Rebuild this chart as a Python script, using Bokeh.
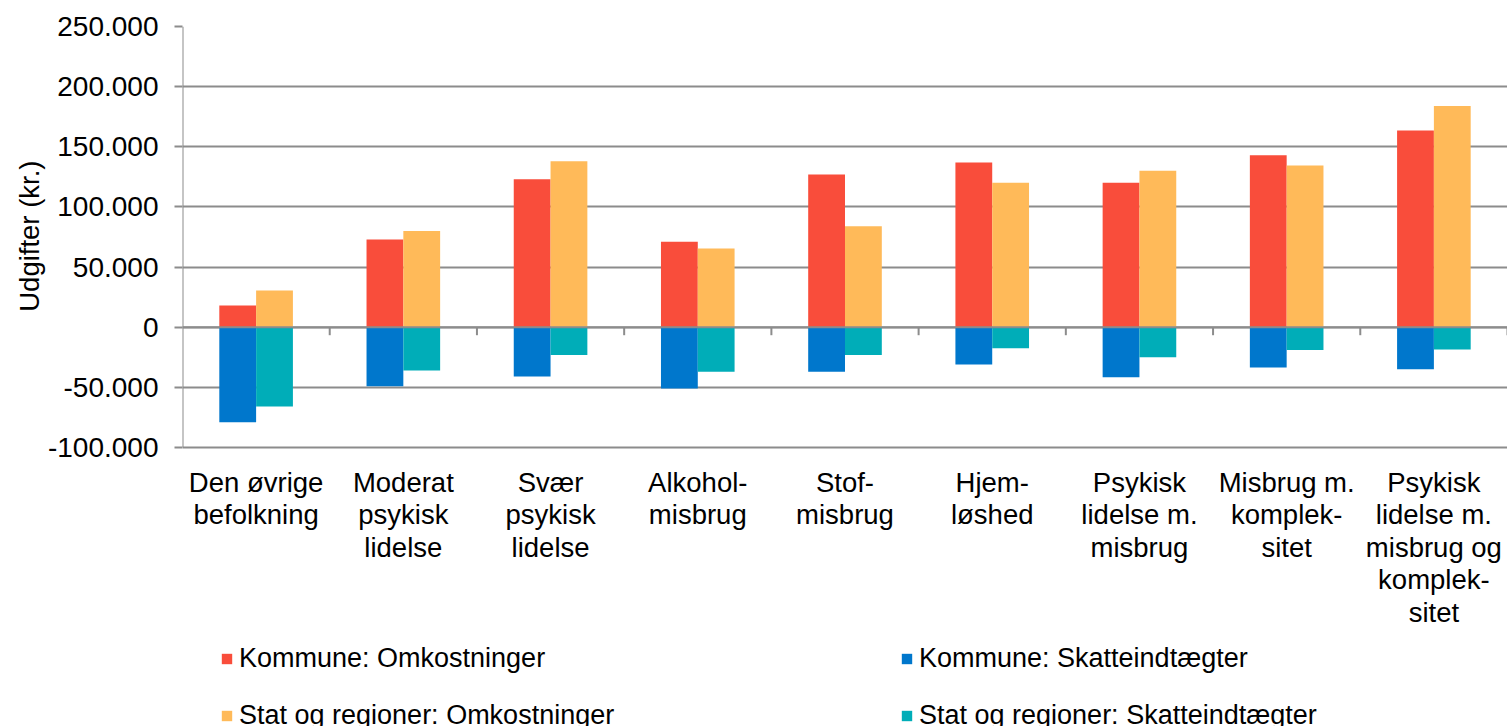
from bokeh.plotting import figure
from bokeh.models import (ColumnDataSource, FactorRange, Range1d, FixedTicker,
                          Legend, LegendItem, Span, Title)
from bokeh.core.properties import value
from bokeh.transform import dodge
from bokeh.embed import file_html
from bokeh.resources import INLINE

categories = [
    "Den øvrige\nbefolkning",
    "Moderat\npsykisk\nlidelse",
    "Svær\npsykisk\nlidelse",
    "Alkohol-\nmisbrug",
    "Stof-\nmisbrug",
    "Hjem-\nløshed",
    "Psykisk\nlidelse m.\nmisbrug",
    "Misbrug m.\nkomplek-\nsitet",
    "Psykisk\nlidelse m.\nmisbrug og\nkomplek-\nsitet",
]
kommune_omk = [18000, 73000, 123000, 71000, 127000, 137000, 120000, 143000, 163500]
stat_omk = [30500, 80000, 138000, 65500, 84000, 120000, 130000, 134500, 184000]
kommune_skat = [-79000, -49000, -41000, -51000, -37000, -31000, -41500, -33500, -35000]
stat_skat = [-66000, -36000, -23000, -37000, -23000, -17500, -25000, -19000, -18500]

y_ticks = [-100000, -50000, 0, 50000, 100000, 150000, 200000, 250000]
y_tick_labels = ["-100.000", "-50.000", "0", "50.000", "100.000", "150.000", "200.000", "250.000"]

series_names = ["Kommune: Omkostninger", "Kommune: Skatteindtægter",
                "Stat og regioner: Omkostninger", "Stat og regioner: Skatteindtægter"]
colors = ["#F94D3B", "#0077CC", "#FFBA59", "#00ADB8"]

FONT = "Liberation Sans"
GRID = "#8C8C8C"

# layout (pixels)
TOP = 26            # top of value axis
AXIS_PX = 421       # pixel length of value axis
FRAME_H = 700       # frame extends below the axis to host labels and legend
LABEL_TOP_PX = 466  # top of category label block

y_min, y_max = y_ticks[0], y_ticks[-1]
units_per_px = (y_max - y_min) / AXIS_PX
y_bottom = y_max - FRAME_H * units_per_px
label_y = y_max - (LABEL_TOP_PX - TOP) * units_per_px

src = ColumnDataSource(dict(k=categories, ko=kommune_omk, so=stat_omk,
                            ks=kommune_skat, ss=stat_skat,
                            ly=[label_y] * len(categories)))

p = figure(x_range=FactorRange(factors=categories), y_range=Range1d(y_bottom, y_max),
           frame_width=1325, frame_height=FRAME_H, x_axis_location=None,
           min_border_left=182, min_border_top=TOP, min_border_right=0, min_border_bottom=0,
           output_backend="svg", toolbar_location=None)
p.outline_line_color = None
p.background_fill_color = "white"

r1 = p.vbar(x=dodge("k", -0.125, range=p.x_range), top="ko", bottom=0, width=0.25,
            source=src, fill_color=colors[0], line_color=None)
r2 = p.vbar(x=dodge("k", -0.125, range=p.x_range), top="ks", bottom=0, width=0.25,
            source=src, fill_color=colors[1], line_color=None)
r3 = p.vbar(x=dodge("k", 0.125, range=p.x_range), top="so", bottom=0, width=0.25,
            source=src, fill_color=colors[2], line_color=None)
r4 = p.vbar(x=dodge("k", 0.125, range=p.x_range), top="ss", bottom=0, width=0.25,
            source=src, fill_color=colors[3], line_color=None)

# zero axis line and category tick marks
p.add_layout(Span(location=0, dimension="width", line_color=GRID, line_width=2))
tick_len = 8 * units_per_px
p.segment(x0=dodge("k", 0.5, range=p.x_range), x1=dodge("k", 0.5, range=p.x_range),
          y0=0, y1=-tick_len, source=src, line_color=GRID, line_width=2)

# value axis line (only over the value range)
axis_src = ColumnDataSource(dict(k=[categories[0]], y0=[y_min], y1=[y_max]))
p.segment(x0=dodge("k", -0.5, range=p.x_range), x1=dodge("k", -0.5, range=p.x_range),
          y0="y0", y1="y1", source=axis_src, line_color=GRID, line_width=2)

# category labels
p.text(x="k", y="ly", text="k", source=src, text_align="center", text_baseline="top",
       text_font=value(FONT), text_font_size=value("27.5px"), text_color="black",
       text_line_height=1.05)

# y axis
p.yaxis.ticker = FixedTicker(ticks=y_ticks)
p.yaxis.major_label_overrides = dict(zip(y_ticks, y_tick_labels))
p.yaxis.major_label_text_font = FONT
p.yaxis.major_label_text_font_size = "28px"
p.yaxis.major_label_text_color = "black"
p.yaxis.major_label_standoff = 16
p.yaxis.axis_line_color = None
p.yaxis.major_tick_line_color = GRID
p.yaxis.major_tick_line_width = 2
p.yaxis.major_tick_out = 8
p.yaxis.major_tick_in = 0
p.yaxis.minor_tick_line_color = None

p.add_layout(Title(text="Udgifter (kr.)", align="right", offset=134, standoff=0,
                   text_font=FONT, text_font_size="27.5px", text_font_style="normal",
                   text_color="black"), "left")

p.ygrid.ticker = FixedTicker(ticks=y_ticks)
p.ygrid.grid_line_color = GRID
p.ygrid.grid_line_width = 2
p.xgrid.grid_line_color = None

legend = Legend(items=[LegendItem(label=series_names[0], renderers=[r1]),
                       LegendItem(label=series_names[1], renderers=[r2]),
                       LegendItem(label=series_names[2], renderers=[r3]),
                       LegendItem(label=series_names[3], renderers=[r4])],
                orientation="horizontal", ncols=2, location=(38, -5),
                label_text_font=FONT, label_text_font_size="27px",
                label_text_color="black",
                glyph_width=13, glyph_height=13, label_standoff=6,
                spacing=26, label_width=635, label_height=28,
                border_line_color=None, background_fill_alpha=0,
                padding=0, margin=0)
p.add_layout(legend)

open("out.html", "w").write(file_html(p, INLINE))
